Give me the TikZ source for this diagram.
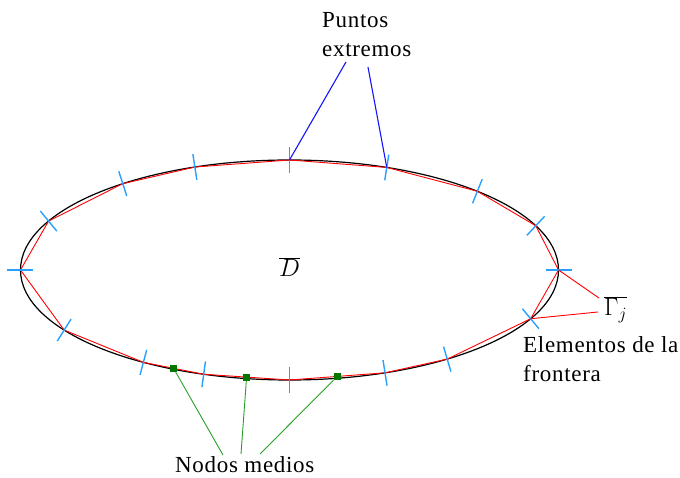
\documentclass[tikz,border=0pt]{standalone}
\usepackage{fontspec}
\setmainfont{Liberation Serif}[LetterSpace=3]
\usetikzlibrary{calc}
\definecolor{tickblue}{RGB}{40,160,255}
\definecolor{ptblue}{RGB}{20,20,255}
\definecolor{nodegreen}{RGB}{0,120,0}
\definecolor{leadgreen}{RGB}{40,160,40}
\tikzset{tck/.style={tickblue, line width=1.4pt},
  lbl/.style={font=\fontsize{23}{29}\selectfont, inner sep=0pt, align=left},
  mid/.style={fill=nodegreen, minimum size=7pt, inner sep=0pt}}

\begin{document}
\begin{tikzpicture}[x=1pt, y=1pt]
  \useasboundingbox (-289.5,-208) rectangle (390.5,270);
  % boundary of D
  \draw[line width=1.2pt] (0,0) ellipse [x radius=269pt, y radius=110pt];
  % end points of the elements
  \def\angs{90,68.8,45.7,23.7,0,-26.3,-54.1,-69.2,-90,-108.6,-122.9,-146.9,180,153.6,128.3,110.6}
  \foreach \t [count=\i] in \angs
    \coordinate (p\i) at (\t:269 and 110);
  \draw[red, line width=0.9pt] (p1) \foreach \i in {2,...,16} { -- (p\i) } -- cycle;
  \foreach \t [count=\i] in \angs {
    \pgfmathsetmacro\nrm{atan2(269*sin(\t),110*cos(\t))}
    \draw[tck] (p\i) ++(\nrm:-13) -- ++(\nrm:26);
  }
  % mid nodes
  \node[mid] (m1) at ($(p10)!0.5!(p11)$) {};
  \node[mid] (m2) at ($(p9)!0.5!(p10)$) {};
  \node[mid] (m3) at ($(p8)!0.5!(p9)$) {};
  % labels
  \node[lbl] (dd) at (0,3) {$\overline{D}$};
  \node[lbl, anchor=base west] (pe) at (32.5,213) {Puntos\\extremos};
  \node[lbl, anchor=base west] (gj) at (314.5,-46) {$\overline{\Gamma_j}$};
  \node[lbl, anchor=base west] (ef) at (233.5,-112) {Elementos de la\\frontera};
  \node[lbl, anchor=base west] (nm) at (-114.5,-203) {Nodos medios};
  % leaders
  \coordinate (pe1) at (56.5,208);
  \coordinate (pe2) at (78.5,203);
  \draw[ptblue, line width=1.1pt] (pe1) -- (p1);
  \draw[ptblue, line width=1.1pt] (pe2) -- (p2);
  \coordinate (gj1) at (309.5,-28);
  \coordinate (gj2) at (308.5,-42);
  \draw[red, line width=0.9pt] (p5) -- (gj1);
  \draw[red, line width=0.9pt] (p6) -- (gj2);
  \coordinate (nm1) at (-66.5,-185);
  \coordinate (nm2) at (-48.5,-184);
  \coordinate (nm3) at (-29.5,-184);
  \draw[leadgreen, line width=0.9pt] (m1) -- (nm1);
  \draw[leadgreen, line width=0.9pt] (m2) -- (nm2);
  \draw[leadgreen, line width=0.9pt] (m3) -- (nm3);
\end{tikzpicture}
\end{document}
